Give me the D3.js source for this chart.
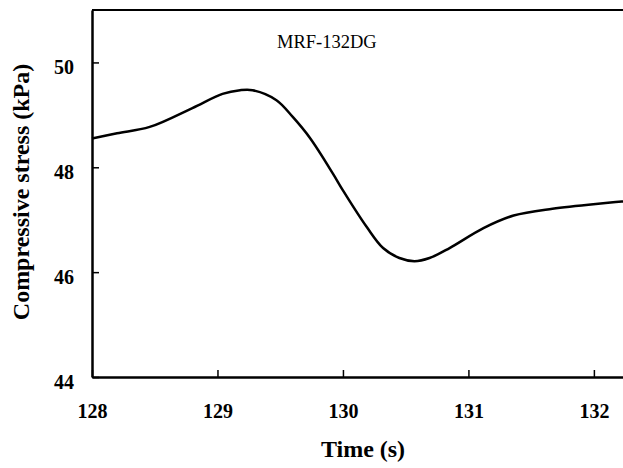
<!DOCTYPE html>
<html>
<head>
<script src="https://cdn.jsdelivr.net/npm/d3@7"></script>
<style>
	body { margin: 0; background: white; }
	text { font-family: "Liberation Serif", "Times New Roman", serif; }
</style>
</head>
<body>
<script>

var timeValues = [128.0, 128.2, 128.46, 128.8, 129.04, 129.18, 129.28, 129.47, 129.6, 129.74, 129.92, 130.0, 130.19, 130.32, 130.45, 130.57, 130.69, 130.85, 131.12, 131.36, 131.67, 132.24]
var stressValues = [48.55, 48.65, 48.77, 49.13, 49.40, 49.47, 49.47, 49.28, 48.96, 48.55, 47.88, 47.56, 46.86, 46.46, 46.27, 46.21, 46.27, 46.46, 46.84, 47.08, 47.21, 47.35]
var xTicks = [128, 129, 130, 131, 132]
var yTicks = [44, 46, 48, 50]
var seriesLabel = "MRF-132DG"

var svgWidth = 623
var svgHeight = 468
var plotLeft = 92, plotTop = 10, plotRight = 624, plotBottom = 377

var svg = d3.select("body")
            .append("svg")
            .attr("width", svgWidth)
            .attr("height", svgHeight)

var x = d3.scaleLinear().domain([128, 132.24]).range([plotLeft, plotRight])
var y = d3.scaleLinear().domain([44, 51]).range([plotBottom, plotTop])

var data = timeValues.map(function(t, i){ return {t: t, v: stressValues[i]} })

// top frame line
svg.append("line")
   .attr("x1", plotLeft).attr("x2", svgWidth)
   .attr("y1", plotTop).attr("y2", plotTop)
   .style("stroke", "black")
   .style("stroke-width", 2)

var xAxis = svg.append("g")
               .attr("transform", "translate(0," + plotBottom + ")")
               .call(d3.axisBottom(x).tickValues(xTicks).tickSizeInner(-7).tickSizeOuter(0).tickPadding(27).tickFormat(d3.format("d")))

var yAxis = svg.append("g")
               .attr("transform", "translate(" + plotLeft + ",0)")
               .call(d3.axisLeft(y).tickValues(yTicks).tickSizeInner(-7).tickSizeOuter(0).tickPadding(18).tickFormat(d3.format("d")))

svg.selectAll(".domain").style("stroke-width", 2.5)
svg.selectAll(".tick line").style("stroke-width", 1.5)
svg.selectAll(".tick text")
   .style("font-size", "20px")
   .style("font-weight", "bold")
   .style("fill", "black")
   .style("font-family", "'Liberation Serif', serif")
yAxis.selectAll(".tick text").attr("dy", "0.55em")

svg.append("path")
   .datum(data)
   .attr("d", d3.line().x(function(d){ return x(d.t) }).y(function(d){ return y(d.v) }).curve(d3.curveCatmullRom))
   .style("fill", "none")
   .style("stroke", "black")
   .style("stroke-width", 2.5)

svg.append("text")
   .attr("x", 277)
   .attr("y", 48)
   .style("font-size", "18.5px")
   .text(seriesLabel)

svg.append("text")
   .attr("x", 363)
   .attr("y", 457)
   .attr("text-anchor", "middle")
   .style("font-size", "24px")
   .style("font-weight", "bold")
   .text("Time (s)")

svg.append("text")
   .attr("transform", "translate(29,192) rotate(-90)")
   .attr("text-anchor", "middle")
   .style("font-size", "24px")
   .style("font-weight", "bold")
   .text("Compressive stress (kPa)")

</script>
</body>
</html>
